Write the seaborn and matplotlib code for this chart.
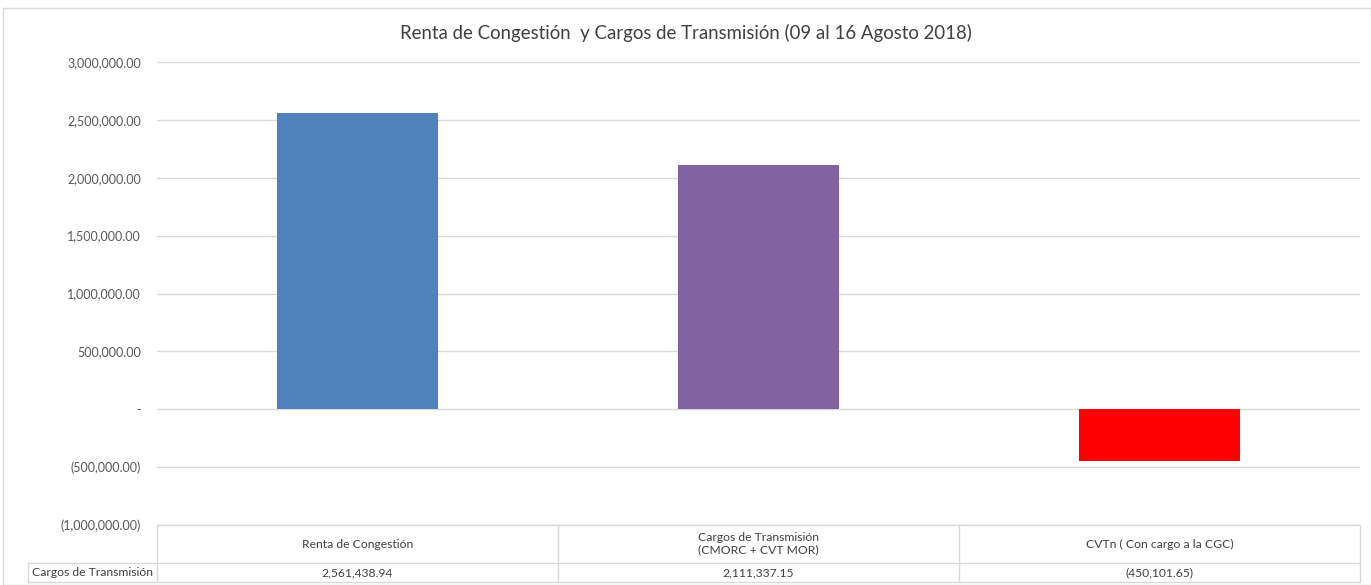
import numpy as np
import pandas as pd
import seaborn as sns
import matplotlib.pyplot as plt
from matplotlib.lines import Line2D
from matplotlib.patches import Rectangle
from matplotlib.ticker import FuncFormatter

# data
categories = ["Renta de Congestión", "Cargos de Transmisión\n(CMORC + CVT MOR)", "CVTn ( Con cargo a la CGC)"]
values = [2561438.94, 2111337.15, -450101.65]
value_labels = ["2,561,438.94", "2,111,337.15", "(450,101.65)"]
series_name = "Cargos de Transmisión"
bar_colors = ["#4F81BD", "#8064A2", "#FF0000"]
title = "Renta de Congestión  y Cargos de Transmisión (09 al 16 Agosto 2018)"

sns.set_style("white")
plt.rcParams['font.family'] = ['Lato', 'DejaVu Sans']

df = pd.DataFrame({"cat": categories, "val": values})

W, H = 1371, 585
fig = plt.figure(figsize=(W / 100, H / 100), dpi=100)
ax = fig.add_axes([157 / W, (H - 525) / H, (1360 - 157) / W, (525 - 62) / H])

sns.barplot(data=df, x="cat", y="val", hue="cat", palette=bar_colors,
            width=0.4, legend=False, ax=ax, saturation=1, linewidth=0)

ax.set_ylim(-1000000, 3000000)
ax.set_yticks(np.arange(-1000000, 3000001, 500000))
ax.set_xlim(-0.5, 2.5)


def acct(v, pos):
    if abs(v) < 1e-6:
        return "-"
    if v < 0:
        return "({:,.2f})".format(-v)
    return "{:,.2f}".format(v)


ax.yaxis.set_major_formatter(FuncFormatter(acct))
ax.tick_params(axis="y", labelsize=9, colors="#595959", length=0, pad=11.5)
ax.set_xticks([])
ax.set_xlabel("")
ax.set_ylabel("")
ax.grid(axis="y", color="#D9D9D9", linewidth=1)
ax.set_axisbelow(True)
for s in ax.spines.values():
    s.set_visible(False)

fig.text(0.5, (H - 33) / H, title, ha="center", va="center", fontsize=13.4, color="#404040")

# data table below the plot
grid_c = "#D9D9D9"
def fx(px):
    return px / W
def fy(py):
    return (H - py) / H

col_edges = [157, 558, 959, 1360]
lines = [
    ([157, 1360], [525, 525]),
    ([28, 1360], [563, 563]),
    ([28, 1360], [582, 582]),
    ([28, 28], [563, 582]),
]
for x in col_edges:
    lines.append(([x, x], [525, 582]))
for xs, ys in lines:
    fig.add_artist(Line2D([fx(v) for v in xs], [fy(v) for v in ys], color=grid_c, linewidth=1))

for i, (cat, lab) in enumerate(zip(categories, value_labels)):
    cx = (col_edges[i] + col_edges[i + 1]) / 2
    fig.text(fx(cx), fy(544), cat, ha="center", va="center", fontsize=8.7, color="#404040", linespacing=1.15)
    fig.text(fx(cx), fy(573), lab, ha="center", va="center", fontsize=8.7, color="#404040")
fig.text(fx(92), fy(573), series_name, ha="center", va="center", fontsize=8.7, color="#404040")

# outer chart border
fig.add_artist(Rectangle((fx(3), 0), 1 - fx(3), fy(8), fill=False, edgecolor=grid_c, linewidth=1))

fig.savefig("out.png", dpi=100)
